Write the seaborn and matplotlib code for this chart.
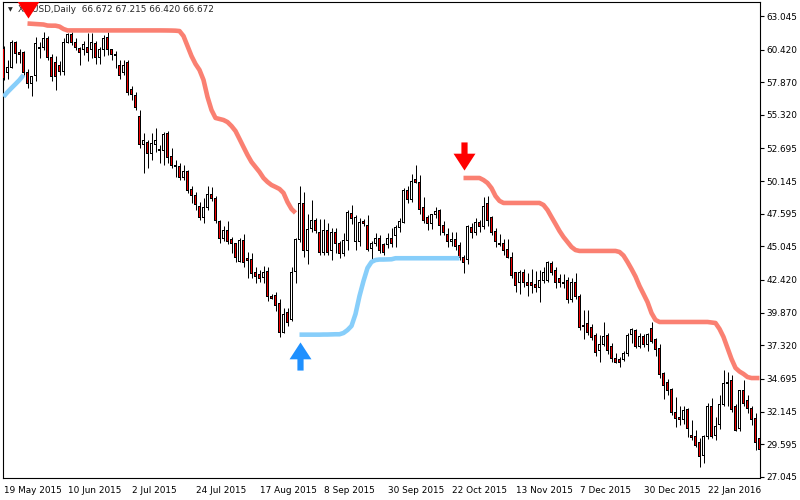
import numpy as np
import pandas as pd
import matplotlib
matplotlib.use('Agg')
import matplotlib.pyplot as plt
from matplotlib.path import Path
import seaborn as sns

# --- data (daily bars, index 0 = 19 May 2015) ---
chart_title = 'XTIUSD,Daily  66.672 67.215 66.420 66.672'

open_ = [
    60.54, 58.60, 59.06, 60.94, 60.20, 60.23, 58.60, 57.80, 58.40, 60.55,
    60.55, 61.30, 59.84, 59.40, 59.20, 58.70, 61.00, 61.60, 61.00, 60.50,
    60.40, 60.60, 60.40, 60.90, 59.80, 60.40, 61.40, 60.40, 60.00, 59.20,
    58.60, 59.40, 57.30, 56.80, 55.20, 53.00, 53.20, 52.30, 53.00, 52.60,
    52.50, 53.90, 52.10, 51.40, 51.25, 50.40, 50.90, 49.50, 49.05, 48.20,
    47.30, 48.10, 49.10, 48.75, 47.00, 45.70, 46.30, 45.55, 45.25, 43.90,
    45.50, 44.10, 44.00, 43.00, 42.85, 42.60, 43.10, 41.10, 41.20, 40.55,
    38.35, 39.90, 39.35, 43.10, 45.55, 48.40, 44.70, 46.45, 47.10, 46.10,
    44.60, 46.30, 44.70, 46.15, 45.30, 44.50, 45.50, 47.60, 45.40, 45.40,
    47.00, 46.70, 44.90, 45.30, 45.65, 45.20, 45.20, 45.70, 45.90, 46.50,
    46.95, 49.45, 48.70, 50.25, 50.00, 48.05, 47.30, 46.80, 47.55, 47.85,
    46.70, 46.00, 45.40, 45.60, 45.15, 44.20, 44.00, 46.50, 46.10, 46.90,
    46.60, 48.40, 47.30, 46.20, 45.30, 45.30, 44.80, 44.20, 43.00, 42.20,
    43.00, 42.25, 42.20, 42.10, 41.80, 42.40, 42.40, 43.70, 43.20, 42.50,
    42.25, 42.40, 40.90, 42.20, 41.10, 38.90, 39.00, 38.70, 38.10, 36.90,
    37.40, 38.10, 37.20, 36.30, 36.20, 36.20, 36.70, 38.20, 38.50, 37.20,
    38.00, 37.40, 38.60, 37.75, 37.10, 35.10, 34.40, 33.90, 32.10, 31.70,
    31.50, 32.30, 30.30, 30.20, 29.70, 28.70, 30.20, 32.50, 30.30, 31.10,
    32.70, 34.40, 34.60, 32.50, 30.80, 33.80, 33.00, 32.40, 31.60, 30.00,
]
high = [
    60.70, 59.60, 61.17, 61.10, 60.50, 60.30, 58.90, 58.35, 61.40, 61.00,
    61.80, 61.50, 60.10, 59.90, 59.50, 61.30, 61.70, 61.80, 61.30, 60.60,
    61.10, 61.70, 61.70, 61.10, 60.60, 61.60, 61.80, 60.50, 60.30, 59.60,
    59.60, 59.60, 57.60, 57.10, 55.70, 53.90, 53.35, 53.90, 54.30, 53.00,
    54.00, 54.10, 52.70, 51.80, 51.60, 51.40, 51.00, 49.80, 49.30, 48.50,
    48.80, 49.80, 49.70, 49.00, 47.10, 46.60, 47.00, 45.80, 45.30, 45.70,
    46.00, 44.60, 44.50, 43.40, 43.20, 43.50, 43.40, 41.30, 41.50, 40.90,
    40.20, 40.20, 43.40, 45.70, 49.80, 49.30, 47.60, 48.70, 47.30, 47.20,
    47.20, 46.90, 46.50, 46.50, 45.50, 46.10, 47.90, 48.30, 47.50, 47.30,
    47.15, 47.50, 45.50, 46.10, 45.90, 45.30, 46.10, 46.50, 46.70, 47.30,
    49.60, 49.80, 50.70, 51.40, 50.60, 48.90, 47.50, 47.60, 48.10, 48.00,
    47.00, 46.50, 46.20, 46.20, 45.40, 44.40, 46.70, 46.90, 47.30, 47.10,
    48.90, 49.00, 47.40, 46.50, 46.00, 45.60, 45.60, 44.60, 43.05, 43.20,
    43.30, 43.00, 43.30, 43.10, 43.20, 43.40, 43.90, 43.90, 43.40, 42.90,
    42.90, 42.65, 42.60, 43.00, 41.30, 40.10, 40.10, 39.00, 38.30, 38.10,
    39.10, 38.30, 37.50, 36.70, 36.40, 36.90, 38.30, 38.70, 38.60, 38.30,
    38.20, 38.30, 39.10, 37.90, 37.40, 35.20, 34.70, 34.00, 33.30, 32.60,
    32.60, 32.40, 31.50, 30.70, 30.05, 30.30, 32.80, 33.20, 31.70, 33.40,
    35.40, 35.20, 35.00, 32.70, 33.80, 34.60, 33.40, 32.60, 32.00, 30.90,
]
low = [
    58.05, 58.10, 59.00, 59.40, 59.40, 58.40, 57.40, 56.80, 58.00, 59.80,
    60.40, 59.60, 58.00, 57.26, 58.40, 58.40, 60.90, 60.80, 60.40, 59.20,
    60.00, 59.50, 59.80, 59.30, 59.30, 59.90, 60.00, 59.60, 59.00, 58.10,
    58.40, 56.90, 56.50, 55.70, 52.70, 50.80, 51.20, 51.80, 52.40, 51.60,
    51.40, 51.60, 51.20, 50.50, 50.20, 50.20, 49.20, 48.40, 47.90, 47.10,
    46.90, 47.90, 48.60, 46.90, 45.30, 45.50, 45.20, 44.50, 43.80, 43.80,
    43.40, 42.60, 42.60, 42.20, 42.30, 42.20, 40.80, 40.90, 40.00, 37.97,
    38.25, 38.80, 39.25, 42.20, 45.40, 44.20, 43.70, 46.20, 46.10, 44.40,
    44.40, 44.40, 43.98, 44.50, 44.10, 44.30, 44.80, 46.80, 44.80, 45.10,
    46.60, 44.70, 43.98, 45.10, 44.50, 44.40, 44.90, 45.00, 45.00, 46.20,
    46.90, 48.40, 48.50, 50.00, 47.60, 46.90, 46.30, 46.40, 47.30, 45.95,
    45.95, 45.00, 45.10, 44.80, 44.00, 43.00, 43.70, 45.70, 45.90, 46.20,
    46.40, 46.60, 45.95, 45.00, 45.05, 44.40, 44.10, 42.60, 41.50, 41.30,
    41.90, 41.20, 41.40, 41.50, 40.70, 42.20, 42.30, 42.80, 41.80, 41.90,
    41.80, 40.60, 40.70, 40.90, 38.50, 37.80, 38.10, 37.70, 36.50, 36.00,
    37.30, 36.60, 36.00, 35.95, 35.60, 36.10, 36.50, 37.50, 37.10, 37.10,
    37.20, 36.90, 37.50, 36.50, 34.80, 33.10, 33.40, 31.90, 30.90, 31.10,
    31.20, 30.15, 29.90, 29.40, 27.80, 28.10, 30.00, 30.10, 29.90, 30.80,
    32.60, 32.60, 32.10, 30.60, 30.60, 32.60, 32.00, 31.10, 29.10, 28.95,
]
close = [
    58.20, 59.00, 60.94, 60.15, 60.05, 58.67, 57.80, 58.30, 60.90, 60.50,
    61.30, 59.84, 58.30, 58.30, 58.70, 61.00, 61.60, 61.00, 60.55, 60.20,
    60.80, 60.20, 61.00, 59.80, 60.40, 61.30, 60.40, 60.00, 59.95, 58.40,
    59.20, 57.10, 56.90, 55.90, 53.00, 53.30, 52.30, 53.10, 53.35, 52.50,
    53.80, 52.00, 51.40, 51.25, 50.40, 50.90, 49.40, 49.00, 48.30, 47.30,
    48.10, 49.10, 48.75, 47.05, 45.70, 46.30, 45.40, 45.25, 44.15, 45.50,
    43.80, 43.95, 42.90, 42.70, 42.50, 43.00, 41.10, 41.00, 40.40, 38.35,
    39.70, 39.10, 43.00, 45.55, 48.40, 44.70, 46.40, 47.10, 46.30, 44.60,
    46.25, 44.60, 46.15, 45.30, 44.50, 45.50, 47.70, 47.20, 47.30, 46.90,
    46.80, 44.80, 45.30, 45.70, 44.70, 44.60, 45.70, 45.30, 46.50, 47.00,
    49.45, 48.70, 50.15, 50.00, 47.95, 47.10, 46.80, 47.50, 47.80, 46.70,
    46.10, 45.40, 45.60, 45.00, 44.20, 43.80, 46.60, 46.10, 46.90, 46.60,
    48.20, 47.10, 46.10, 45.40, 45.20, 44.70, 44.20, 42.80, 42.00, 43.00,
    42.20, 42.00, 42.00, 41.80, 42.40, 43.00, 43.75, 43.00, 42.20, 42.20,
    42.15, 40.90, 42.20, 41.10, 38.70, 38.80, 38.35, 37.90, 36.75, 37.40,
    38.00, 36.95, 36.30, 36.00, 36.00, 36.70, 38.10, 38.55, 37.20, 38.00,
    37.40, 38.20, 37.60, 37.00, 35.00, 34.20, 33.80, 32.10, 31.60, 31.50,
    32.20, 30.80, 30.10, 29.50, 28.60, 30.20, 32.50, 30.20, 31.00, 32.70,
    34.30, 34.30, 32.30, 30.70, 33.75, 32.80, 32.40, 31.50, 29.70, 29.15,
]

date_label_bars = [0, 16, 32, 48, 64, 80, 96, 112, 128, 144, 160, 176]
date_labels = ['19 May 2015', '10 Jun 2015', '2 Jul 2015', '24 Jul 2015',
               '17 Aug 2015', '8 Sep 2015', '30 Sep 2015', '22 Oct 2015',
               '13 Nov 2015', '7 Dec 2015', '30 Dec 2015', '22 Jan 2016']
price_ticks = [63.045, 60.420, 57.870, 55.320, 52.695, 50.145, 47.595, 45.045,
               42.420, 39.870, 37.320, 34.695, 32.145, 29.595, 27.045]

# trailing stop, one list per stretch (first bar of the stretch + values)
buy_stop_a_start = 0
buy_stop_a = [56.74, 57.10, 57.42, 57.73, 58.05, 58.44]

sell_stop_a_start = 6
sell_stop_a = [
    62.46, 62.44, 62.42, 62.40, 62.38, 62.30, 62.29, 62.29, 62.22, 62.03,
    61.92, 61.92, 61.92, 61.92, 61.92, 61.92, 61.92, 61.92, 61.92, 61.92,
    61.92, 61.92, 61.92, 61.92, 61.92, 61.92, 61.92, 61.92, 61.92, 61.92,
    61.92, 61.92, 61.92, 61.92, 61.918, 61.915, 61.91, 61.90, 61.87,
    61.48, 60.70, 59.92, 59.30, 58.83, 58.05, 56.72, 55.70, 55.08, 55.00,
    54.92, 54.76, 54.45, 54.06, 53.44, 52.81, 52.19, 51.64, 51.25, 50.86,
    50.39, 50.08, 49.84, 49.69, 49.53, 49.22, 48.51, 47.97, 47.66,
]

buy_stop_b_start = 74
buy_stop_b = [
    38.15, 38.15, 38.15, 38.15, 38.15, 38.15, 38.16, 38.16, 38.17, 38.18,
    38.18, 38.28, 38.51, 38.83, 39.76, 41.17, 42.34, 43.36, 43.83, 43.98,
    44.02, 44.02, 44.03, 44.04, 44.12, 44.12, 44.12, 44.12, 44.12, 44.12,
    44.12, 44.12, 44.12, 44.12, 44.12, 44.12, 44.12, 44.12, 44.12, 44.12,
    44.12,
]

sell_stop_b_start = 115
sell_stop_b = [
    50.39, 50.39, 50.39, 50.39, 50.39, 50.23, 50.00, 49.60, 48.98, 48.60,
    48.44, 48.44, 48.44, 48.44, 48.44, 48.44, 48.44, 48.44, 48.44, 48.44,
    48.28, 47.89, 47.34, 46.80, 46.25, 45.78, 45.39, 45.00, 44.76, 44.69,
    44.69, 44.69, 44.69, 44.69, 44.69, 44.69, 44.69, 44.69, 44.69, 44.61,
    44.33, 43.83, 43.28, 42.69, 41.95, 41.33, 40.70, 39.84, 39.30, 39.14,
    39.14, 39.14, 39.14, 39.14, 39.14, 39.14, 39.14, 39.14, 39.14, 39.14,
    39.14, 39.14, 39.10, 39.06, 38.60, 37.97, 37.11, 36.25, 35.55, 35.27,
    35.08, 34.84, 34.76, 34.76, 34.76,
]

sell_arrow_bars = [6, 115]
sell_arrow_prices = [63.98, 52.11]
buy_arrow_bars = [74]
buy_arrow_prices = [36.48]

# --- style ---
sns.set_style('white')
plt.rcParams['font.family'] = ['DejaVu Sans']

fig = plt.figure(figsize=(8, 5), dpi=100)
ax = fig.add_axes([2.5 / 800, 22 / 500, 757.5 / 800, 476 / 500])

Y_MIN, Y_MAX = 26.95, 64.14
X_MIN = -0.25
X_MAX = X_MIN + 757.5 / 4          # 4 px per bar
px = (Y_MAX - Y_MIN) / 476.0       # one pixel in price units

df = pd.DataFrame({'open': open_, 'high': high, 'low': low, 'close': close})
df['bar'] = np.arange(len(df))
bull = df['close'] >= df['open']

# candles: wick, black 3px box, 1px coloured inside
ax.vlines(df['bar'], df['low'], df['high'], color='black', linewidth=0.72, zorder=2)
body_low = df[['open', 'close']].min(axis=1)
body_h = (df['close'] - df['open']).abs()
ax.bar(df['bar'], body_h + px, bottom=body_low - px / 2, width=0.75,
       color='black', linewidth=0, zorder=3)
ax.bar(df['bar'], np.clip(body_h - px, 0, None), bottom=body_low + px / 2,
       width=0.25, color=np.where(bull, 'white', '#f00000'), linewidth=0,
       zorder=3.5)

# trailing stop stretches
stretches = [
    (buy_stop_a_start, buy_stop_a, '#87cefa'),
    (sell_stop_a_start, sell_stop_a, '#fa8072'),
    (buy_stop_b_start, buy_stop_b, '#87cefa'),
    (sell_stop_b_start, sell_stop_b, '#fa8072'),
]
for start, vals, col in stretches:
    seg = pd.DataFrame({'bar': np.arange(start, start + len(vals)), 'stop': vals})
    sns.lineplot(data=seg, x='bar', y='stop', color=col, linewidth=3.3,
                 ax=ax, zorder=4, solid_capstyle='butt')

# signal arrows (thick MT4 style arrows)
down_verts = [(-0.11, 0.5), (0.11, 0.5), (0.11, 0.1), (0.39, 0.1),
              (0.0, -0.5), (-0.39, 0.1), (-0.11, 0.1), (-0.11, 0.5)]
up_verts = [(x, -y) for x, y in down_verts]
down_arrow = Path(down_verts, closed=True)
up_arrow = Path(up_verts, closed=True)

sns.scatterplot(x=sell_arrow_bars, y=sell_arrow_prices, marker=down_arrow,
                s=410, color='#ff0000', linewidth=0, ax=ax, zorder=5)
sns.scatterplot(x=buy_arrow_bars, y=buy_arrow_prices, marker=up_arrow,
                s=410, color='#1e90ff', linewidth=0, ax=ax, zorder=5)

# axes
ax.set_xlim(X_MIN, X_MAX)
ax.set_ylim(Y_MIN, Y_MAX)
ax.set_xlabel('')
ax.set_ylabel('')
ax.yaxis.tick_right()
ax.set_yticks(price_ticks)
ax.set_yticklabels([f'{v:.3f}' for v in price_ticks])
ax.set_xticks(date_label_bars)
ax.set_xticklabels(date_labels, ha='left')
ax.tick_params(axis='both', direction='out', length=3, width=0.8,
               color='black', labelcolor='black', labelsize=6.4)
ax.tick_params(axis='x', pad=2.5)
ax.tick_params(axis='y', pad=1.5, right=True, left=False)
for sp in ax.spines.values():
    sp.set_color('black')
    sp.set_linewidth(0.8)

# header in the top-left corner (under the arrow, like MT4)
ax.text(5.5 / 757.5, 1 - 8 / 476, '\u25bc', transform=ax.transAxes,
        fontsize=4.5, va='center', ha='left', zorder=1)
ax.text(15.5 / 757.5, 1 - 8 / 476, chart_title, transform=ax.transAxes,
        fontsize=6.4, va='center', ha='left', zorder=1)

fig.savefig('out.png', dpi=100)
